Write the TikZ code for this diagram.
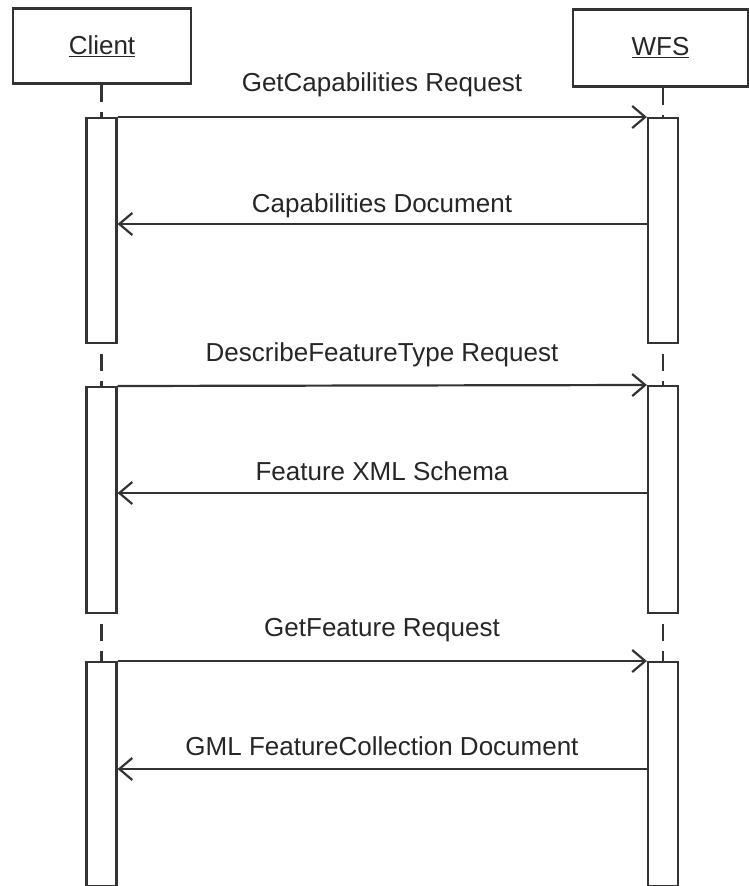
\documentclass[tikz,border=0pt]{standalone}
\usepackage{fontspec}
\setmainfont{Liberation Sans}
\usetikzlibrary{arrows.meta}
\begin{document}
\begin{tikzpicture}[x=1pt,y=-1pt,
  ln/.style={draw=black!80, line width=2.2pt},
  objbox/.style={ln, rectangle, inner sep=0pt, text=black!85, font=\fontsize{26}{31}\selectfont},
  actbar/.style={ln, fill=white, rectangle, minimum width=30pt, inner sep=0pt, anchor=north},
  msg/.style={ln, -{Straight Barb[length=13pt,width=22pt,line width=2.2pt]}},
  lbl/.style={font=\fontsize{26}{31}\selectfont, anchor=base, text=black!85, inner sep=0pt},
  life/.style={ln, dash pattern=on 17pt off 10pt}
]
\useasboundingbox (0,0) rectangle (749,886);

% objects
\node[objbox, minimum width=178pt, minimum height=75pt] (client) at (102,46) {\underline{Client}};
\node[objbox, minimum width=175pt, minimum height=77pt] (wfs) at (660.5,48) {\underline{WFS}};

% activation bars
\node[actbar, minimum height=225pt] (c1) at (101.5,117) {};
\node[actbar, minimum height=225pt] (w1) at (663,117) {};
\node[actbar, minimum height=226pt] (c2) at (101.5,386) {};
\node[actbar, minimum height=227pt] (w2) at (663,385) {};
\node[actbar, minimum height=224pt] (c3) at (101.5,661) {};
\node[actbar, minimum height=224pt] (w3) at (663,661) {};

% lifelines
\draw[life] (c1.north |- client.south) -- (c1.north);
\draw[life] (w1.north |- wfs.south) -- (w1.north);
\draw[life, dash phase=17pt] (c1.south) -- (c2.north);
\draw[life, dash phase=17pt] (w1.south) -- (w2.north);
\draw[life, dash phase=17pt] (c2.south) -- (c3.north);
\draw[life, dash phase=17pt] (w2.south) -- (w3.north);

% messages
\draw[msg] (c1.north east) -- (w1.north west);
\draw[msg] (w1.west |- 0,224) -- (c1.east |- 0,224);
\draw[msg] (c2.north east) -- (w2.north west);
\draw[msg] (w2.west |- 0,493) -- (c2.east |- 0,493);
\draw[msg] (c3.north east) -- (w3.north west);
\draw[msg] (w3.west |- 0,769) -- (c3.east |- 0,769);

% labels
\node[lbl] (l1) at (382,91) {GetCapabilities Request};
\node[lbl] (l2) at (382,212) {Capabilities Document};
\node[lbl] (l3) at (382,361) {DescribeFeatureType Request};
\node[lbl] (l4) at (382,480) {Feature XML Schema};
\node[lbl] (l5) at (382,636) {GetFeature Request};
\node[lbl] (l6) at (382,755) {GML FeatureCollection Document};
\end{tikzpicture}
\end{document}
